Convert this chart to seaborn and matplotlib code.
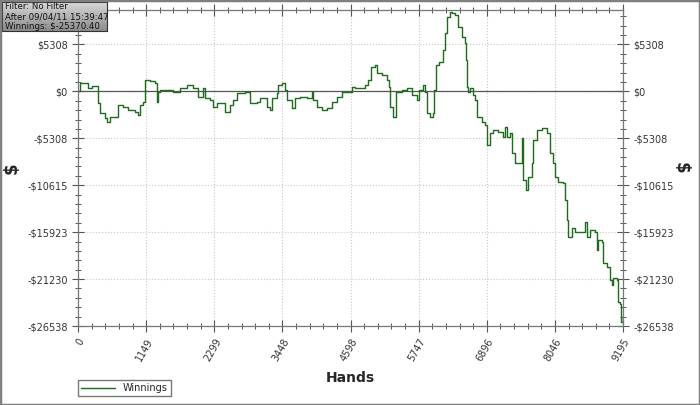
import numpy as np
import pandas as pd
import matplotlib
matplotlib.use('Agg')
import matplotlib.pyplot as plt
from matplotlib.ticker import FixedLocator, MultipleLocator
from matplotlib.patches import Rectangle
import seaborn as sns

# hands played vs cumulative winnings
hands = [0, 34, 118, 169, 236, 287, 337, 371, 456, 489, 540, 590, 675, 759, 844, 962,
         1012, 1046, 1097, 1130, 1215, 1299, 1333, 1350, 1383, 1501, 1603, 1721, 1839,
         1940, 2024, 2109, 2142, 2227, 2278, 2345, 2480, 2564, 2615, 2682, 2817, 2902,
         3020, 3070, 3188, 3239, 3273, 3357, 3374, 3441, 3492, 3526, 3610, 3661, 3745,
         3863, 3948, 3965, 4032, 4116, 4201, 4285, 4369, 4454, 4538, 4622, 4673, 4757,
         4842, 4892, 4943, 5010, 5044, 5129, 5213, 5247, 5264, 5314, 5348, 5365, 5466,
         5550, 5635, 5719, 5753, 5820, 5854, 5888, 5938, 5989, 6006, 6040, 6090, 6158,
         6191, 6225, 6276, 6310, 6360, 6411, 6478, 6529, 6546, 6563, 6580, 6613, 6664,
         6698, 6731, 6816, 6866, 6900, 6951, 7001, 7085, 7170, 7204, 7237, 7288, 7322,
         7372, 7457, 7490, 7507, 7558, 7592, 7659, 7676, 7744, 7828, 7912, 7963, 8014,
         8047, 8098, 8182, 8216, 8250, 8266, 8334, 8385, 8520, 8553, 8587, 8638, 8722,
         8756, 8773, 8840, 8857, 8925, 8975, 9009, 9026, 9093, 9110, 9144, 9161, 9195]
winnings = [0, 960, 960, 395, 621, 621, -1298, -2427, -2992, -3443, -2879, -2879, -1524,
            -1750, -2089, -2314, -2653, -1524, -1185, 1298, 1185, 960, -1185, -56, 169,
            169, -56, 395, 734, 395, -621, 395, -734, -960, -1750, -1298, -2314, -1524,
            -960, -169, -56, -1298, -1185, -734, -1750, -2089, -734, -169, 734, 960, 169,
            -960, -1863, -734, -621, -734, -56, -960, -1750, -2089, -1863, -1185, -621,
            -56, -56, 508, 395, 395, 734, 1298, 2766, 2992, 2089, 1863, 1298, 508, -1750,
            -2879, -2879, -56, 169, 395, -395, -960, 169, 734, -56, -2427, -2879, -2427,
            169, 2992, 3330, 4685, 6604, 8411, 8975, 8863, 8637, 7282, 6153, 5476, 3556,
            508, -56, 395, -395, -960, -2879, -3443, -3782, -6040, -4685, -4347, -4572,
            -5137, -4008, -5137, -4685, -6943, -8072, -8072, -5250, -9992, -11121, -9653,
            -8072, -5476, -4347, -4121, -4685, -6943, -8072, -9653, -10217, -10330,
            -12250, -14508, -16427, -15411, -15863, -15863, -14734, -16427, -15637,
            -15863, -17895, -16766, -16991, -19362, -19814, -21281, -21846, -21056,
            -21281, -23878, -24104, -26136, -25370]

x_ticks = [0, 1149, 2299, 3448, 4598, 5747, 6896, 8046, 9195]
y_ticks = [5308, 0, -5308, -10615, -15923, -21230, -26538]
info_lines = ['Filter: No Filter', 'After 09/04/11 15:39:47', 'Winnings: $-25370.40']

df = pd.DataFrame({'Hands': hands, 'Winnings': winnings})

sns.set_style('white')
plt.rcParams['font.family'] = ['DejaVu Sans']

fig = plt.figure(figsize=(7, 4.05), dpi=100)
ax = fig.add_axes([78 / 700, 1 - 326 / 405, 545 / 700, 316 / 405])

sns.lineplot(data=df, x='Hands', y='Winnings', ax=ax, drawstyle='steps-post',
             color='#1e6b1e', linewidth=1.0, label='Winnings', legend=False)
ax.axhline(0, color='#555555', linewidth=0.9, zorder=1)

ax.set_xlim(0, 9195)
ax.set_ylim(-26538, 9200)
ax.xaxis.set_major_locator(FixedLocator(x_ticks))
ax.xaxis.set_minor_locator(MultipleLocator(9195 / 40))
ax.yaxis.set_major_locator(FixedLocator(y_ticks))
ax.yaxis.set_minor_locator(MultipleLocator(5307.6 / 5))
ax.set_xticklabels([str(t) for t in x_ticks], rotation=60, ha='right',
                   rotation_mode='anchor', fontsize=7, color='#333333')
ylabs = ['$%d' % v if v >= 0 else '-$%d' % -v for v in y_ticks]
ax.set_yticklabels(ylabs, fontsize=7, color='#333333')

ax.grid(True, which='major', linestyle=':', color='#c8c8c8', linewidth=0.8)
for s in ax.spines.values():
    s.set_color('#777777')
    s.set_linewidth(0.9)
ax.tick_params(which='both', direction='inout', top=True, right=True, bottom=True,
               left=True, labelright=True, colors='#555555', labelcolor='#333333')
ax.tick_params(which='major', length=8, width=0.8)
ax.tick_params(which='minor', length=4, width=0.7)

ax.set_xlabel('Hands', fontsize=10, fontweight='bold', labelpad=6)
ax.set_ylabel('$', fontsize=12, fontweight='bold')
ax.yaxis.set_label_coords(-0.105, 0.5)
ax.text(1.105, 0.5, '$', transform=ax.transAxes, rotation=-90, fontsize=12,
        fontweight='bold', ha='center', va='center')

# legend box under the plot
fig.legend(handles=ax.get_lines()[:1], labels=['Winnings'], loc='lower left',
           bbox_to_anchor=(78 / 700, 1 - 396 / 405), fontsize=7, frameon=True,
           fancybox=False, edgecolor='#555555', handlelength=3.5,
           borderpad=0.3, borderaxespad=0)

# info box with gradient in the top-left corner
bax = fig.add_axes([2 / 700, 1 - 31 / 405, 105 / 700, 29 / 405])
grad = np.linspace(0, 1, 50).reshape(-1, 1)
bax.imshow(grad, aspect='auto', cmap=matplotlib.colors.LinearSegmentedColormap.from_list(
    'g', ['#d8d8d8', '#8c8c8c']), extent=[0, 1, 0, 1])
bax.set_xticks([])
bax.set_yticks([])
for s in bax.spines.values():
    s.set_color('#333333')
    s.set_linewidth(0.8)
for i, line in enumerate(info_lines):
    bax.text(0.03, 0.83 - i * 0.33, line, fontsize=6.2, va='center', ha='left',
             color='#111111', transform=bax.transAxes)

# outer frame
fig.patches.append(Rectangle((0, 0), 1, 1, transform=fig.transFigure, fill=False,
                             edgecolor='#808080', linewidth=2.5))

fig.savefig('out.png', dpi=100)
